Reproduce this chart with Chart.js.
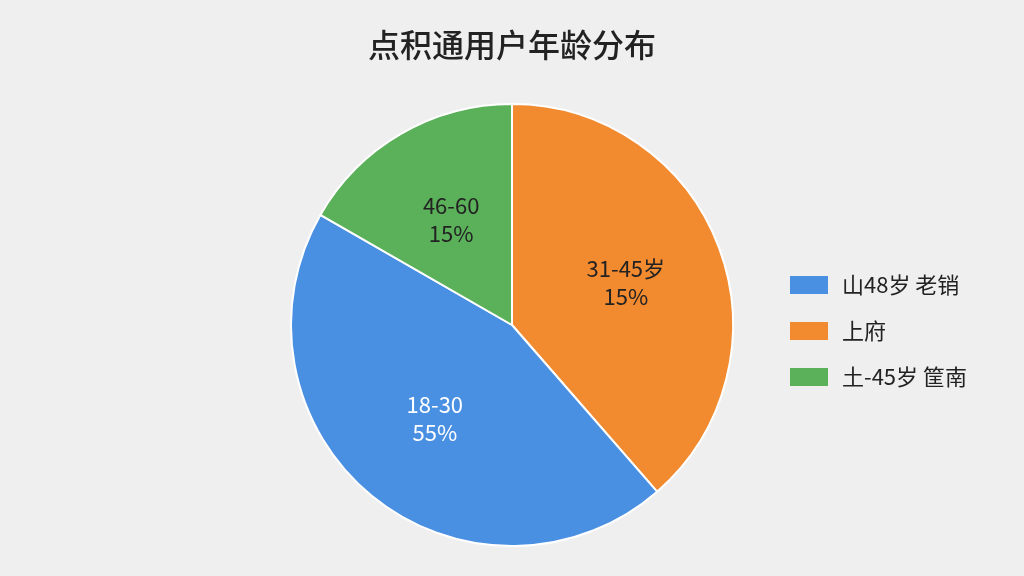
<!DOCTYPE html>
<html><head><meta charset="utf-8">
<script src="https://cdn.jsdelivr.net/npm/chart.js@4"></script>
<style>html,body{margin:0;background:#efefef}#w{width:1024px;height:576px}</style>
</head><body><div id="w"><canvas id="c"></canvas></div>
<script>
const title = "点积通用户年龄分布";
const categories = ["31-45岁", "18-30", "46-60"];
const values = [38.6, 44.7, 16.7];
const sliceLabels = ["15%", "55%", "15%"];
const colors = ["#F28A30", "#4A90E2", "#5BB15A"];
const legendLabels = ["山48岁 老销", "上府", "土-45岁 筐南"];
const legendColors = ["#4A90E2", "#F28A30", "#5BB15A"];
const labelColors = ["#222", "#fff", "#222"];
const FONT = '"Noto Sans CJK SC","Noto Sans",sans-serif';

const deco = {
  id: 'deco',
  afterDatasetsDraw(chart) {
    const ctx = chart.ctx;
    ctx.save();
    ctx.fillStyle = '#222';
    ctx.font = '500 32px ' + FONT;
    ctx.textAlign = 'center'; ctx.textBaseline = 'middle';
    ctx.fillText(title, 512, 45);
    const meta = chart.getDatasetMeta(0);
    meta.data.forEach((arc, i) => {
      const mid = (arc.startAngle + arc.endAngle) / 2;
      const r = arc.outerRadius * 0.55;
      const x = arc.x + Math.cos(mid) * r, y = arc.y + Math.sin(mid) * r;
      ctx.fillStyle = labelColors[i];
      ctx.font = '22px ' + FONT;
      ctx.fillText(categories[i], x, y - 14);
      ctx.fillText(sliceLabels[i], x, y + 14);
    });
    ctx.textAlign = 'left';
    legendLabels.forEach((t, i) => {
      const y = 285 + i * 46;
      ctx.fillStyle = legendColors[i];
      ctx.fillRect(790, y - 9, 38, 18);
      ctx.fillStyle = '#222';
      ctx.font = '22px ' + FONT;
      ctx.fillText(t, 842, y);
    });
    ctx.restore();
  }
};

new Chart(document.getElementById('c'), {
  type: 'pie',
  data: { labels: categories, datasets: [{ data: values, backgroundColor: colors, borderColor: '#fff', borderWidth: 2 }] },
  options: {
    responsive: true, maintainAspectRatio: false, animation: false,
    layout: { padding: { top: 103, bottom: 29 } },
    plugins: { legend: { display: false }, tooltip: { enabled: false } }
  },
  plugins: [deco]
});
</script></body></html>
